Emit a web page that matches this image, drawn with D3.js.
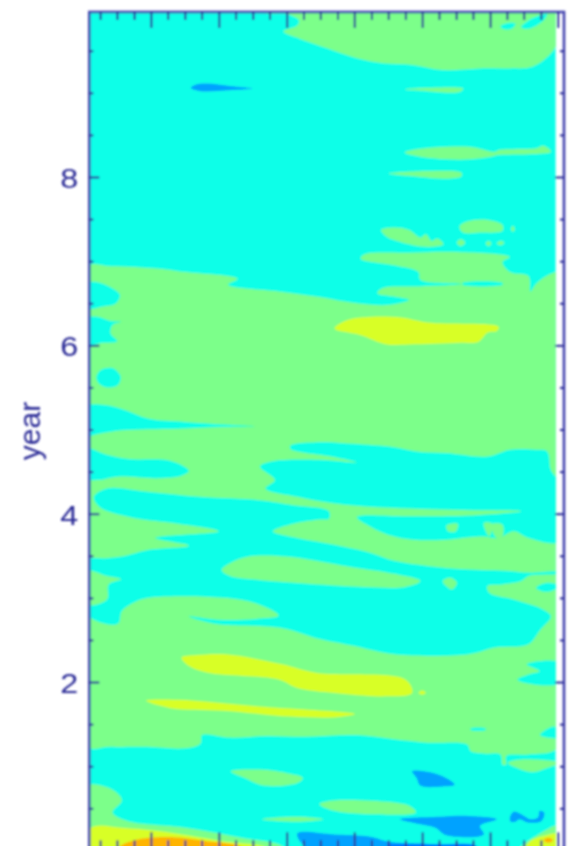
<!DOCTYPE html>
<html>
<head>
<meta charset="utf-8">
<script src="https://cdn.jsdelivr.net/npm/d3@7"></script>
<style>
html, body { margin: 0; padding: 0; background: #fff; overflow: hidden; }
svg { display: block; }
</style>
</head>
<body>
<svg id="chart" width="584" height="846"></svg>
<script>
// contour levels, low to high
var levelColors = { blue2: "#0078ff", blue: "#00a2ff", cyan: "#0effe8", green: "#7cff8a", yellow: "#d8ff28", orange: "#ffb400" };

var yearMajor = [2, 4, 6, 8];
var yearMinor = [0.5, 1, 1.5, 2.5, 3, 3.5, 4.5, 5, 5.5, 6.5, 7, 7.5, 8.5, 9, 9.5];
var xMajor = [16.5, 34.7, 52.9, 71, 89.2, 107.4, 125.5];
var xMinor = [2.9, 7.4, 12, 21, 25.6, 30.1, 39.2, 43.8, 48.3, 57.4, 61.9, 66.5, 75.6, 80.1, 84.7, 93.7, 98.3, 102.8, 111.9, 116.4, 121];

// outlines of the filled contour bands, as [x, year]
var greenTop = [[46.7,9.96],[52.7,9.94],[56.2,9.86],[55.7,9.8],[52,9.73],[56.5,9.64],[63.7,9.53],[71.7,9.41],[78.7,9.35],[86.7,9.33],[94.7,9.27],[104.7,9.29],[112.7,9.29],[118.7,9.31],[123.7,9.47],[125.5,9.62],[125.5,10.1],[46.7,10.1]];
var greenStreak905 = [[84.5,9.04],[90.7,9.06],[100.2,9.05],[99.2,9.01],[90.7,9.02]];
var greenStreak83 = [[84.5,8.29],[87.7,8.33],[101.7,8.36],[108.7,8.3],[109.7,8.32],[119.7,8.34],[121.7,8.37],[123.7,8.3],[117.7,8.27],[109.7,8.26],[107.7,8.24],[102.2,8.21],[95.7,8.21],[88.7,8.24]];
var greenStreak80 = [[80.2,8.04],[90.7,8.07],[99.7,8.05],[99.7,8.01],[95.7,7.98],[88.7,8]];
var greenBlob74 = [[99.2,7.41],[101.2,7.47],[106.7,7.49],[110.7,7.43],[110.7,7.36],[104.7,7.34],[100.2,7.34]];
var greenDot1 = [[113,7.38],[113.5,7.42],[114,7.38],[113.5,7.35]];
var greenDot2 = [[98.5,7.22],[99.5,7.26],[100.7,7.22],[99.5,7.18]];
var greenDot3 = [[106.2,7.21],[107,7.24],[107.7,7.21],[107,7.18]];
var greenDot4 = [[109.2,7.21],[110.2,7.24],[111.2,7.22],[110.2,7.19]];
var greenJag = [[78.2,7.37],[81.7,7.4],[85.7,7.37],[88.7,7.28],[90.2,7.32],[91.7,7.24],[93.2,7.27],[94.9,7.2],[91.7,7.17],[86.7,7.19],[81.7,7.25],[79.7,7.29]];
var greenMain = [[-1,6.93],[5.7,6.94],[18.7,6.91],[25.7,6.87],[39.7,6.79],[37.2,6.72],[50.7,6.64],[60.7,6.58],[71.7,6.5],[79.7,6.48],[85.7,6.54],[81.7,6.58],[77.2,6.62],[78.7,6.68],[87.7,6.7],[99.7,6.73],[88.7,6.78],[88.2,6.87],[81.7,6.95],[72.7,7.03],[73.7,7.08],[85.7,7.1],[98.7,7.11],[112.7,7.05],[110.7,6.99],[112.7,6.87],[117.7,6.82],[118.2,6.64],[119.7,6.73],[123.7,6.85],[126,6.86],[126,4],[126,1.24],[117.7,1.14],[111.7,1.12],[111.7,1.02],[110.7,1.02],[110.2,1.14],[105.7,1.15],[102.2,1.18],[101.2,1.26],[90.7,1.28],[81.7,1.32],[71.7,1.37],[57.7,1.35],[47.7,1.36],[37.7,1.34],[30.2,1.37],[29.9,1.28],[28.7,1.24],[24.7,1.21],[15.7,1.23],[5.7,1.23],[-1,1.24],[-1,4]];

var cyanTop1 = [[110.2,9.79],[112.2,9.83],[114.2,9.82],[113.2,9.76],[110.7,9.76]];
var cyanTop2 = [[115.7,9.78],[117.7,9.86],[120.7,9.92],[122.7,9.94],[121.7,9.86],[117.7,9.76]];
var cyanThin = [[100,6.74],[110.7,6.74],[110.7,6.72],[100,6.72]];
var cyanA = [[-1,6.73],[2.2,6.75],[5.7,6.69],[8.2,6.6],[7.2,6.5],[3.7,6.46],[-1,6.44]];
var cyanB = [[-1,6.32],[2.2,6.34],[5.7,6.29],[8.5,6.28],[6.2,6.24],[5.7,6.14],[7.5,6.05],[3.7,6.03],[-1,6.01]];
var cyanC = [[1.9,5.63],[3.2,5.71],[6.2,5.73],[8.4,5.63],[7.7,5.53],[4.7,5.5],[2.5,5.55]];
var cyanD = [[-1,5.27],[4.2,5.29],[9.7,5.23],[15.7,5.13],[25.7,5.09],[35.7,5.06],[44.2,5.04],[35.7,5.03],[23.7,5.01],[8.7,4.99],[2.7,4.95],[-1,4.93]];
var cyanE = [[-1,4.77],[4.7,4.7],[10.7,4.65],[21.7,4.63],[26.7,4.51],[24.7,4.45],[18.7,4.42],[7.7,4.44],[2.2,4.4],[-1,4.42]];
var cyanF = [[53.9,4.81],[60.7,4.85],[70.7,4.83],[81.7,4.79],[87.7,4.74],[95.7,4.72],[106.7,4.68],[112.7,4.76],[119.7,4.76],[122.7,4.74],[123.7,4.52],[126,4.36],[126,3.67],[117.7,3.71],[113.7,3.79],[109.7,3.71],[105.7,3.73],[101.9,3.72],[95.7,3.69],[86.7,3.69],[80.7,3.74],[74.7,3.86],[71.7,3.96],[85.7,3.97],[102.7,3.98],[115.7,4.03],[102.7,4.04],[80.7,4.07],[65.7,4.12],[55.7,4.2],[47.2,4.3],[49.7,4.4],[45.7,4.56],[48.7,4.62],[61.7,4.64],[71.7,4.61],[64.7,4.68],[53.9,4.77]];
var cyanG = [[1.2,4.2],[4.7,4.3],[15.7,4.26],[29.7,4.2],[45.7,4.16],[54.7,4.1],[64.2,4.03],[64.2,3.94],[61.7,3.93],[54.7,3.88],[49.2,3.79],[55.7,3.71],[65.7,3.63],[75.7,3.53],[81.7,3.44],[90.7,3.38],[100.7,3.34],[112.7,3.32],[117.7,3.3],[126,3.31],[126,3.29],[117.7,3.26],[115.7,3.2],[110.7,3.16],[106.7,3.14],[107.2,3.06],[113.7,2.98],[121.7,2.86],[123.7,2.78],[120.7,2.61],[117.7,2.45],[108.7,2.41],[101.7,2.33],[81.7,2.33],[70.7,2.43],[61.7,2.51],[51.7,2.64],[35.7,2.68],[31.7,2.71],[26.7,2.78],[34.7,2.74],[44.7,2.75],[50.7,2.79],[42.7,2.96],[17.7,3.01],[12.7,2.96],[8.7,2.84],[7.9,2.7],[5.7,2.68],[-1,2.82],[-1,3.44],[4.7,3.47],[8.7,3.49],[15.7,3.57],[26.7,3.62],[17.7,3.71],[34.7,3.79],[23.7,3.88],[10.7,3.96],[2.7,4.08]];
var cyanRight2 = [[117.2,2.21],[126,2.23],[126,1.99],[117.7,1.98],[114.7,2.03],[117.7,2.09],[120.7,2.13]];
var cyanRight3 = [[119.7,3.12],[122.7,3.18],[126,3.14],[123.7,3.08],[121.2,3.08]];
var cyanWedge = [[120.7,1.37],[124.7,1.47],[126,1.34]];
var cyanDash = [[102.2,1.45],[106.2,1.45],[106.2,1.43],[102.2,1.43]];

var greenF1 = [[95.7,3.86],[98.7,3.88],[98.2,3.79],[96.2,3.79]];
var greenF2 = [[105.7,3.89],[107.2,3.73],[108,3.88]];
var greenF3 = [[107.7,3.87],[110.7,3.87],[110.7,3.73],[109.2,3.71]];
var greenLeft3 = [[-1,3.32],[4.7,3.26],[8.5,3.22],[5.2,3.16],[4.7,2.98],[-1,2.92]];
var greenIsland3 = [[35.5,3.33],[37.7,3.41],[42.7,3.49],[52.7,3.49],[60.7,3.44],[70.7,3.36],[79.7,3.3],[88.7,3.2],[84.7,3.13],[73.7,3.13],[57.7,3.17],[43.7,3.22],[37.7,3.26]];
var greenDot32 = [[94.7,3.2],[96.7,3.24],[98.5,3.18],[97.2,3.1],[96.2,3.12]];
var greenRight1 = [[112.2,1.04],[115.7,1.08],[126,1.04],[122.7,0.98],[118.7,0.93],[114.7,0.98]];
var greenLow1 = [[37.9,0.94],[45.7,0.96],[53.7,0.91],[57.2,0.86],[55.7,0.8],[46.7,0.77],[41.7,0.86]];
var greenLow2 = [[61.7,0.55],[64.7,0.59],[75.7,0.59],[85.7,0.53],[87.5,0.45],[75.7,0.43],[65.7,0.47]];
var greenLow3 = [[46.2,0.37],[55.7,0.4],[62.7,0.37],[55.7,0.34]];
var greenBottomLeft = [[-1,0.76],[4.7,0.75],[7.7,0.67],[8.7,0.59],[6.2,0.45],[10.2,0.35],[25.7,0.27],[40.7,0.15],[51.7,0.05],[54,-0.1],[-1,-0.1]];
var greenBottomRight = [[114.7,0],[119.7,0.17],[126,0.29],[126,-0.1],[114,-0.1]];

var yellow6 = [[65.7,6.2],[69.2,6.3],[75.7,6.34],[83.7,6.33],[90.7,6.27],[109.7,6.22],[109.2,6.17],[106.7,6.15],[104.2,6.04],[99.7,6.03],[85.7,6.01],[79.7,6.01],[72.7,6.12]];
var yellow2 = [[24.7,2.29],[28.7,2.32],[36.7,2.33],[51.7,2.21],[60.7,2.11],[84.7,2.03],[86.5,1.87],[79.7,1.83],[65.7,1.87],[55.7,1.93],[50.7,2.03],[31.7,2.11],[26.7,2.19]];
var yellowDot = [[88.2,1.87],[89.2,1.9],[90.2,1.87],[89.2,1.85]];
var yellow17 = [[15.2,1.78],[23.7,1.79],[45.7,1.71],[71.2,1.62],[65.7,1.58],[53.7,1.59],[35.7,1.66],[21.7,1.69]];
var yellowBottomLeft = [[-1,0.21],[1.7,0.29],[8.7,0.27],[18.7,0.23],[35.7,0.11],[47.7,0.03],[50,-0.1],[-1,-0.1]];
var yellowBottomRight = [[117.7,0.09],[121.7,0.17],[126,0.19],[126,-0.1],[116,-0.1]];
var orangeLeft = [[8,0.03],[12,0.12],[20.7,0.16],[31.7,0.11],[41,0.03],[41,-0.1],[8,-0.1]];
var orangeRight = [[121.7,0.12],[123,0.15],[124.3,0.12],[123,0.09]];

var blue91 = [[27.2,9.06],[28.7,9.1],[31.7,9.11],[37.7,9.08],[43.7,9.05],[37.7,9.03],[29.7,9.02]];
var blueP1 = [[86.5,0.94],[89.7,0.94],[94.7,0.88],[97.9,0.78],[94.7,0.76],[88.7,0.77],[87.7,0.86]];
var blueP2 = [[83.2,0.37],[93.7,0.4],[101.7,0.41],[109.2,0.37],[104.7,0.29],[105.7,0.19],[95.7,0.18],[92.7,0.27],[88.7,0.31]];
var blueP3 = [[112.7,0.39],[113.7,0.46],[115.7,0.43],[118.2,0.37],[120.2,0.39],[120.7,0.47],[121.9,0.45],[121.2,0.35],[117.7,0.33],[115.2,0.37],[114.2,0.34],[112.9,0.34]];
var blueBottom = [[55.7,0.2],[65.7,0.19],[75.7,0.16],[79.7,0.11],[90,0.07],[104,0.045],[104,-0.1],[62,-0.1]];
var blueDeep = [[80,0.05],[85,0.08],[95,0.07],[103,0.05],[103,-0.1],[80,-0.1]];

// painted in this order over the cyan background
var bands = [
    ["green", [greenTop, greenStreak905, greenStreak83, greenStreak80, greenBlob74, greenDot1, greenDot2, greenDot3, greenDot4, greenJag, greenMain]],
    ["cyan", [cyanTop1, cyanTop2, cyanThin, cyanA, cyanB, cyanC, cyanD, cyanE, cyanF, cyanG, cyanRight2, cyanRight3, cyanWedge, cyanDash]],
    ["green", [greenF1, greenF2, greenF3, greenLeft3, greenIsland3, greenDot32, greenRight1, greenLow1, greenLow2, greenLow3, greenBottomLeft, greenBottomRight]],
    ["yellow", [yellow6, yellow2, yellowDot, yellow17, yellowBottomLeft, yellowBottomRight]],
    ["orange", [orangeLeft, orangeRight]],
    ["blue", [blue91, blueP1, blueP2, blueP3, blueBottom]],
    ["blue2", [blueDeep]]
];

var svg = d3.select("#chart");
var left = 89.3, right = 564, top_ = 12, zero = 850.4;
var x = d3.scaleLinear().domain([0, 127.2]).range([left, right]);
var y = d3.scaleLinear().domain([0, 9.96]).range([zero, top_]);
var navy = "#2b2b96";

var defs = svg.append("defs");
defs.append("clipPath").attr("id", "plotClip").append("rect")
    .attr("x", x(0)).attr("y", y(9.96))
    .attr("width", x(125) - x(0)).attr("height", zero - top_);
defs.append("filter").attr("id", "soft")
    .attr("filterUnits", "userSpaceOnUse")
    .attr("x", 0).attr("y", 0).attr("width", 584).attr("height", 846)
    .append("feGaussianBlur").attr("stdDeviation", 0.9);

var root = svg.append("g").attr("filter", "url(#soft)");

var plot = root.append("g").attr("clip-path", "url(#plotClip)");
plot.append("rect")
    .attr("x", x(0)).attr("y", y(9.96))
    .attr("width", x(125) - x(0)).attr("height", zero - top_)
    .attr("fill", levelColors.cyan);

var outline = d3.line()
    .x(function (d) { return x(d[0]); })
    .y(function (d) { return y(d[1]); })
    .curve(d3.curveCatmullRomClosed.alpha(0.5));

bands.forEach(function (band) {
    plot.append("g").selectAll("path").data(band[1]).enter().append("path")
        .attr("d", outline)
        .attr("fill", levelColors[band[0]]);
});

// frame
root.append("rect")
    .attr("x", left).attr("y", top_)
    .attr("width", right - left).attr("height", zero - top_)
    .attr("fill", "none").attr("stroke", "#4343ad").attr("stroke-width", 2.6);

function drawAxis(axis, tx, ty) {
    var g = root.append("g").attr("transform", "translate(" + tx + "," + ty + ")").call(axis);
    g.select(".domain").remove();
    g.selectAll(".tick line").attr("stroke", navy).attr("stroke-width", 2);
    return g;
}

drawAxis(d3.axisTop(x).tickValues(xMajor).tickSize(-16).tickFormat(""), 0, top_);
drawAxis(d3.axisTop(x).tickValues(xMinor).tickSize(-8).tickFormat(""), 0, top_);
drawAxis(d3.axisBottom(x).tickValues(xMajor).tickSize(-18).tickFormat(""), 0, zero);
drawAxis(d3.axisBottom(x).tickValues(xMinor).tickSize(-10).tickFormat(""), 0, zero);
drawAxis(d3.axisRight(y).tickValues(yearMajor).tickSize(-9).tickFormat(""), right, 0);
drawAxis(d3.axisRight(y).tickValues(yearMinor).tickSize(-4).tickFormat(""), right, 0);
drawAxis(d3.axisLeft(y).tickValues(yearMinor).tickSize(-4).tickFormat(""), left, 0);

var yLabels = drawAxis(d3.axisLeft(y).tickValues(yearMajor).tickSize(-10).tickPadding(11).tickFormat(d3.format("d")), left, 0);
yLabels.selectAll("text")
    .attr("fill", navy)
    .attr("font-family", "'Liberation Sans', sans-serif")
    .attr("font-size", 28)
    .attr("dy", "0.38em")
    .attr("textLength", 18)
    .attr("lengthAdjust", "spacingAndGlyphs");

root.append("text")
    .attr("transform", "translate(40,431) rotate(-90)")
    .attr("text-anchor", "middle")
    .attr("fill", navy)
    .attr("font-family", "'Liberation Sans', sans-serif")
    .attr("font-size", 30)
    .text("year");
</script>
</body>
</html>
